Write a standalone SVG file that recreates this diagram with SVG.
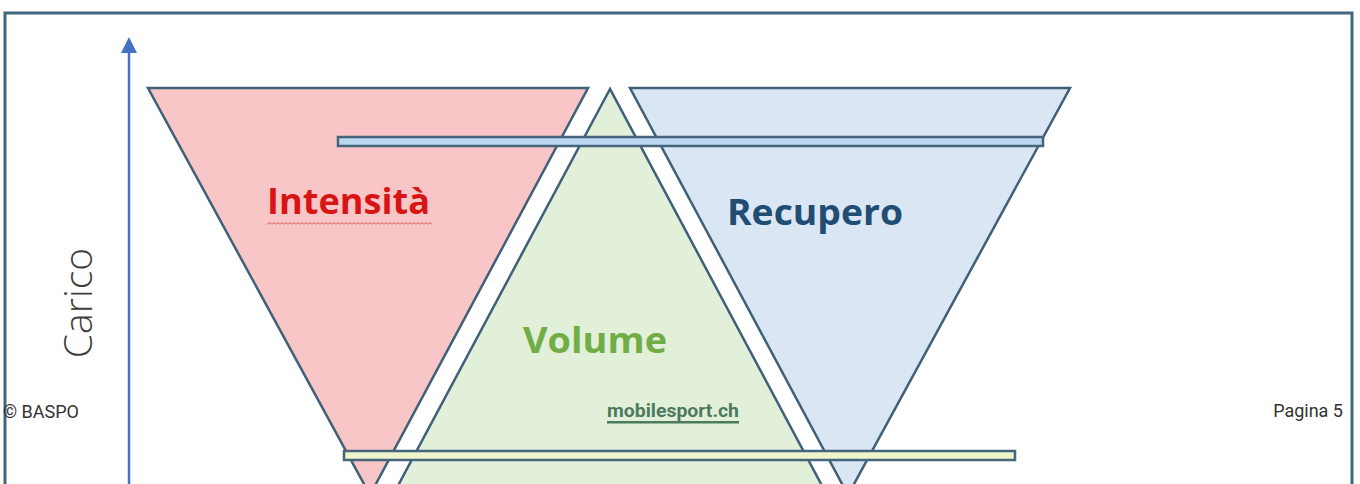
<svg xmlns="http://www.w3.org/2000/svg" width="1360" height="484" viewBox="0 0 1360 484">
  <style>
    .tri { stroke: #3f6079; stroke-width: 2.5; stroke-linejoin: miter; }
    .bar { stroke: #44657b; stroke-width: 2.5; }
    .big { font-family: "Open Sans", "Noto Sans", "Liberation Sans", sans-serif; font-weight: 700; font-size: 35px; }
    .foot { font-family: Roboto, "Liberation Sans", sans-serif; font-size: 18px; fill: #333333; }
  </style>
  <defs>
    <pattern id="wave" width="4" height="3" patternUnits="userSpaceOnUse">
      <path d="M0,2.5 L2,0.5 L4,2.5" fill="none" stroke="#d43a3a" stroke-width="0.9"/>
    </pattern>
  </defs>

  <rect x="0" y="0" width="1360" height="484" fill="#ffffff"/>

  <g id="frame">
    <rect x="5" y="13" width="1347" height="500" fill="none" stroke="#44657e" stroke-width="3"/>
  </g>

  <g id="intensita">
    <polygon class="tri" points="148,88 588,88 370,495" fill="#f8c6c6"/>
  </g>
  <g id="volume">
    <polygon class="tri" points="610,89 393,495 827,495" fill="#e2efd9"/>
  </g>
  <g id="recupero">
    <polygon class="tri" points="630,88 1070,88 848,495" fill="#dae6f3"/>
  </g>

  <g id="bar-top">
    <rect class="bar" x="338" y="137" width="705" height="9" fill="#bdd7ee"/>
  </g>
  <g id="bar-bottom">
    <rect class="bar" x="344" y="451" width="671" height="9" fill="#eef5cc"/>
  </g>

  <g id="connectors">
    <line x1="129" y1="484" x2="129" y2="53" stroke="#4472c4" stroke-width="2.5"/>
    <path d="M129,37 L121,53 L137,53 Z" fill="#4472c4"/>
  </g>

  <g id="label-intensita">
    <text class="big" x="267" y="214" fill="#d81414" textLength="163" lengthAdjust="spacingAndGlyphs">Intensità</text>
    <rect x="267" y="222" width="165" height="3" fill="url(#wave)"/>
  </g>
  <g id="label-recupero">
    <text class="big" x="727" y="225" fill="#214d73" textLength="176" lengthAdjust="spacingAndGlyphs">Recupero</text>
  </g>
  <g id="label-volume">
    <text class="big" x="523" y="353" fill="#70ad47" textLength="144" lengthAdjust="spacingAndGlyphs">Volume</text>
  </g>
  <g id="label-carico">
    <text transform="translate(92,303) rotate(-90)" text-anchor="middle" font-family="Open Sans, Noto Sans, Liberation Sans, sans-serif" font-weight="300" font-size="39" fill="#404040">Carico</text>
  </g>

  <g id="footer">
    <text class="foot" x="3" y="418">© BASPO</text>
    <text x="607" y="417" font-family="Roboto, Liberation Sans, sans-serif" font-weight="700" font-size="18" fill="#4d7a5e" textLength="132" lengthAdjust="spacingAndGlyphs">mobilesport.ch</text>
    <rect x="607" y="421" width="132" height="2.5" fill="#4d7a5e"/>
    <text class="foot" x="1343" y="417" text-anchor="end">Pagina 5</text>
  </g>
</svg>
